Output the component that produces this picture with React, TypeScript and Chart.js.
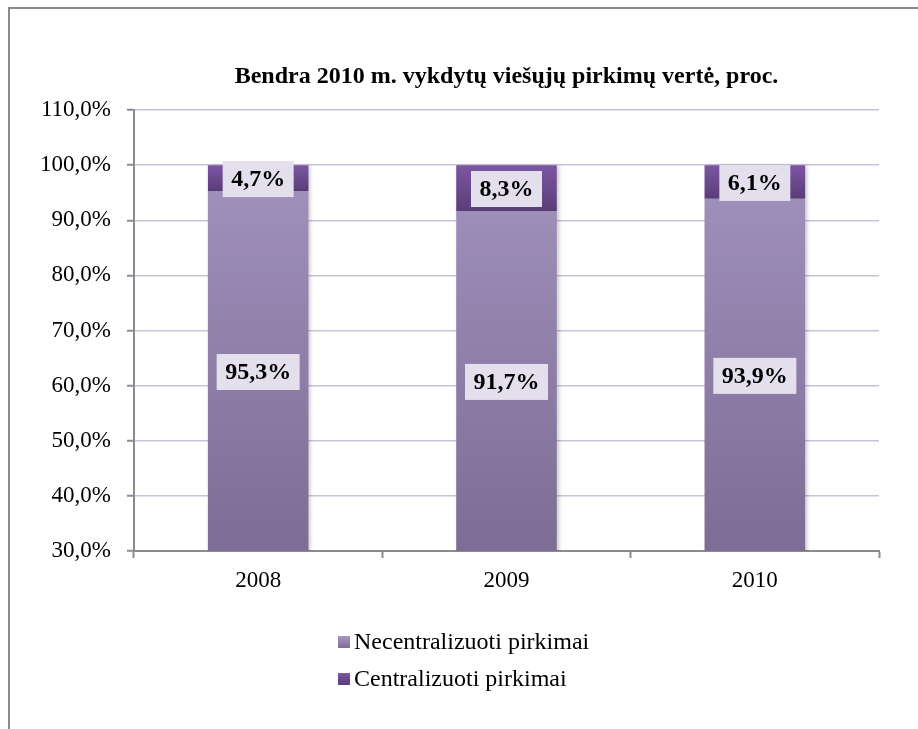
import React, { useEffect, useRef } from "react";
import { Chart, registerables } from "chart.js";

Chart.register(...registerables);

const titleText = "Bendra 2010 m. vykdytų viešųjų pirkimų vertė, proc.";
const years = ["2008", "2009", "2010"];
const necentralizuoti = [95.3, 91.7, 93.9];
const centralizuoti = [4.7, 8.3, 6.1];
const seriesNames = ["Necentralizuoti pirkimai", "Centralizuoti pirkimai"];
const yMin = 30;
const yMax = 110;
const yStep = 10;

const FONT = "'Liberation Serif', 'Times New Roman', serif";
const fmt = (v: number) => v.toFixed(1).replace(".", ",") + "%";

const lightTop = "#a697c4";
const lightBottom = "#7d6d94";
const darkTop = "#7c56a3";
const darkBottom = "#5a3d78";

function segGradient(ctx: any, dsIndex: number) {
  const chart = ctx.chart;
  const area = chart.chartArea;
  if (!area) return dsIndex === 0 ? lightTop : darkTop;
  const c = chart.ctx as CanvasRenderingContext2D;
  const y = chart.scales.y;
  if (dsIndex === 0) {
    const g = c.createLinearGradient(0, area.top, 0, area.bottom);
    g.addColorStop(0, lightTop);
    g.addColorStop(1, lightBottom);
    return g;
  }
  const i = ctx.dataIndex ?? 0;
  const base = necentralizuoti[i];
  const top = base + centralizuoti[i];
  const yt = y.getPixelForValue(top);
  const yb = y.getPixelForValue(base);
  const g = c.createLinearGradient(0, yt, 0, yb + 0.01);
  g.addColorStop(0, darkTop);
  g.addColorStop(1, darkBottom);
  return g;
}

const shadowPlugin = {
  id: "barShadow",
  beforeDatasetDraw(chart: any) {
    const c = chart.ctx;
    c.save();
    c.shadowColor = "rgba(0,0,0,0.22)";
    c.shadowBlur = 4;
    c.shadowOffsetX = 2;
    c.shadowOffsetY = 1;
  },
  afterDatasetDraw(chart: any) {
    chart.ctx.restore();
  },
};

const labelPlugin = {
  id: "boxLabels",
  afterDatasetsDraw(chart: any) {
    const c = chart.ctx as CanvasRenderingContext2D;
    const y = chart.scales.y;
    c.save();
    c.font = `bold 24px ${FONT}`;
    c.textAlign = "center";
    c.textBaseline = "middle";
    chart.data.datasets.forEach((ds: any, di: number) => {
      const meta = chart.getDatasetMeta(di);
      meta.data.forEach((bar: any, i: number) => {
        const v = ds.data[i] as number;
        let lo: number, hi: number;
        if (di === 0) {
          lo = Math.max(yMin, 0);
          hi = v;
        } else {
          lo = necentralizuoti[i];
          hi = lo + v;
        }
        const cy = y.getPixelForValue((lo + hi) / 2) + 1;
        const cx = bar.x;
        const text = fmt(v);
        const w = c.measureText(text).width + 17;
        const h = 36;
        c.fillStyle = "#e4dfec";
        c.fillRect(cx - w / 2, cy - h / 2, w, h);
        c.fillStyle = "#000";
        c.fillText(text, cx, cy + 1);
      });
    });
    c.restore();
  },
};

const legendPlugin = {
  id: "vertLegend",
  afterDraw(chart: any) {
    const c = chart.ctx as CanvasRenderingContext2D;
    c.save();
    c.font = `24px ${FONT}`;
    c.textBaseline = "middle";
    c.textAlign = "left";
    const x0 = 338;
    const ys = [642, 679];
    chart.data.datasets.forEach((ds: any, di: number) => {
      const yc = ys[di];
      const g = c.createLinearGradient(0, yc - 6, 0, yc + 6);
      g.addColorStop(0, di === 0 ? lightTop : darkTop);
      g.addColorStop(1, di === 0 ? lightBottom : darkBottom);
      c.fillStyle = g;
      c.fillRect(x0, yc - 6, 12, 12);
      c.fillStyle = "#000";
      c.fillText(ds.label, x0 + 16, yc + 1);
    });
    c.restore();
  },
};

export default function App() {
  const ref = useRef<HTMLCanvasElement | null>(null);
  useEffect(() => {
    if (!ref.current) return;
    const chart = new Chart(ref.current, {
      type: "bar",
      data: {
        labels: years,
        datasets: [
          {
            label: seriesNames[0],
            data: necentralizuoti,
            backgroundColor: (ctx: any) => segGradient(ctx, 0),
            barPercentage: 0.405,
            categoryPercentage: 1,
          },
          {
            label: seriesNames[1],
            data: centralizuoti,
            backgroundColor: (ctx: any) => segGradient(ctx, 1),
            barPercentage: 0.405,
            categoryPercentage: 1,
          },
        ],
      },
      options: {
        animation: false,
        responsive: false,
        maintainAspectRatio: false,
        layout: { padding: { left: 0, right: 39, top: 0, bottom: 118 } },
        plugins: {
          legend: { display: false },
          tooltip: { enabled: false },
          title: {
            display: true,
            text: titleText,
            fullSize: false,
            color: "#000",
            font: { family: FONT, size: 24, weight: "bold" },
            padding: { top: 62, bottom: 19.2 },
          },
        },
        scales: {
          x: {
            stacked: true,
            offset: true,
            afterFit: (s: any) => {
              s.height = 60;
            },
            grid: {
              display: true,
              drawOnChartArea: false,
              drawTicks: true,
              tickLength: 7,
              tickColor: "#8c8c8c",
              tickWidth: 2,
              offset: true,
            },
            border: { display: true, color: "#8c8c8c", width: 2 },
            ticks: {
              color: "#000",
              font: { family: FONT, size: 23 },
              padding: 9,
            },
          },
          y: {
            stacked: true,
            min: yMin,
            max: yMax,
            afterFit: (s: any) => {
              s.width = 134;
            },
            grid: {
              color: "#cbc1dc",
              lineWidth: 1.5,
              tickLength: 7,
              tickColor: "#8c8c8c",
              tickWidth: 2,
            },
            border: { display: true, color: "#8c8c8c", width: 2 },
            ticks: {
              stepSize: yStep,
              color: "#000",
              font: { family: FONT, size: 23 },
              padding: 16,
              callback: (v: any) => fmt(Number(v)),
            },
          },
        },
      },
      plugins: [shadowPlugin, labelPlugin, legendPlugin],
    });
    return () => chart.destroy();
  }, []);

  return (
    <div style={{ position: "fixed", left: 0, top: 0, width: 918, height: 729, overflow: "hidden", background: "#fff" }}>
      <div
        style={{
          position: "absolute",
          left: 8,
          top: 7,
          width: 2000,
          height: 2000,
          borderLeft: "2px solid #8a8a8a",
          borderTop: "2px solid #8a8a8a",
        }}
      />
      <canvas ref={ref} width={918} height={729} style={{ position: "absolute", left: 0, top: 0, display: "block" }} />
    </div>
  );
}
